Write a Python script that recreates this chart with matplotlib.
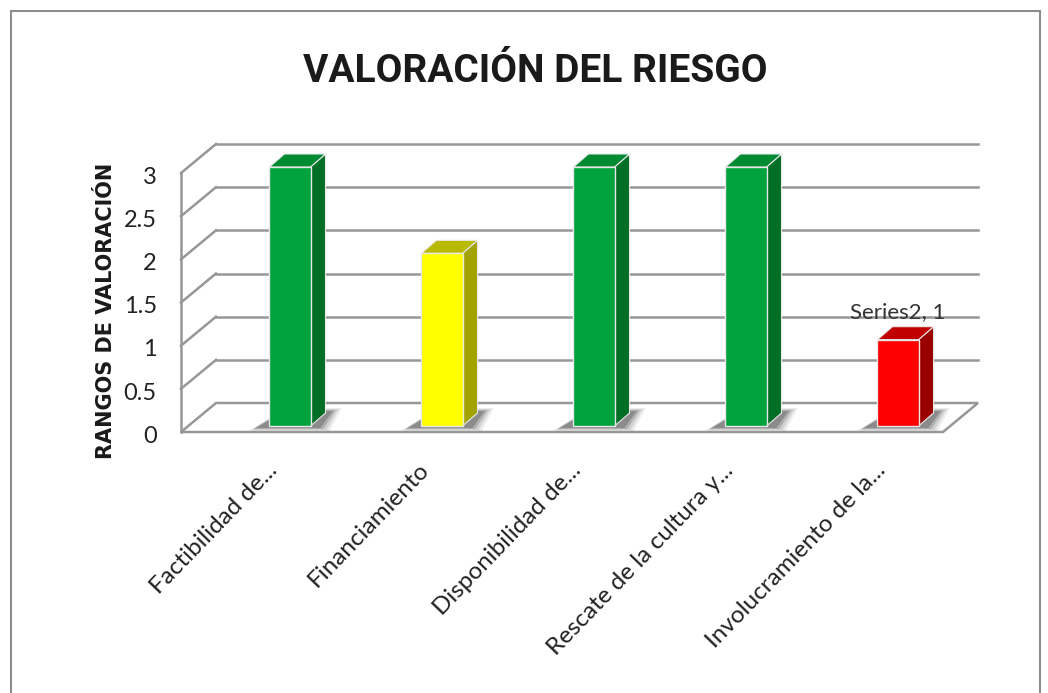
import matplotlib
matplotlib.use("Agg")
import matplotlib.pyplot as plt
from matplotlib.patches import Polygon, Rectangle

# ---- data ----
categories = ["Factibilidad de...", "Financiamiento", "Disponibilidad de...",
              "Rescate de la cultura y...", "Involucramiento de la..."]
values = [3, 2, 3, 3, 1]
bar_colors = ["green", "yellow", "green", "green", "red"]
y_ticks = [0, 0.5, 1, 1.5, 2, 2.5, 3]
y_tick_labels = ["0", "0.5", "1", "1.5", "2", "2.5", "3"]
title = "VALORACIÓN DEL RIESGO"
y_label = "RANGOS DE VALORACIÓN"
data_label = "Series2, 1"

palette = {
    "green": ("#00A33D", "#006E25", "#008A32"),
    "yellow": ("#FFFF00", "#A3A300", "#B9B900"),
    "red": ("#FF0000", "#9A0000", "#C00000"),
}
body_font = ["Lato", "DejaVu Sans"]

W, H = 1048, 693
fig = plt.figure(figsize=(W / 100, H / 100), dpi=100)
fig.patch.set_facecolor("white")

# outer frame
fig.add_artist(Rectangle((11 / W, -0.01), (1040 - 11) / W, (H - 11) / H + 0.01,
                         transform=fig.transFigure, fill=False,
                         edgecolor="#8C8C8C", lw=1.5))

# front plane axes
px_left, px_right = 181, 943
px_y0, px_y3 = 432, 173
xmin, xmax = -0.671, 4.342
ax = fig.add_axes([px_left / W, (H - px_y0) / H, (px_right - px_left) / W, (px_y0 - px_y3) / H])
ax.set_xlim(xmin, xmax)
ax.set_ylim(0, 3)
ax.axis("off")

ppx = (px_right - px_left) / (xmax - xmin)   # pixels per x unit
ppy = (px_y0 - px_y3) / 3.0                  # pixels per y unit

def off(dxp, dyp):
    return dxp / ppx, dyp / ppy

BX, BY = off(35, 29)     # depth of wall (front -> back)
OX, OY = off(7, 6)       # bar placement depth
DX, DY = off(15, 13)     # bar depth
grid_c = "#979797"

# floor
floor = Polygon([(xmin, 0), (xmax, 0), (xmax + BX, BY), (xmin + BX, BY)],
                closed=True, facecolor="white", edgecolor=grid_c, lw=1.8,
                clip_on=False, zorder=2)
ax.add_patch(floor)

# back wall grid lines + side wall diagonals
for v in y_ticks:
    if v > 0:
        ax.plot([xmin + BX, xmax + BX], [v + BY, v + BY], color=grid_c, lw=1.8,
                clip_on=False, zorder=1)
        ax.plot([xmin, xmin + BX], [v, v + BY], color=grid_c, lw=1.8,
                clip_on=False, zorder=1)
ax.plot([xmin, xmin], [0, 3], color=grid_c, lw=1.8, clip_on=False, zorder=1)

# tick labels
for v, lab in zip(y_ticks, y_tick_labels):
    ax.text(xmin - 0.16, v - 0.05, lab, ha="right", va="center",
            fontsize=17, family=body_font, color="#222222")

# bars
w = 0.27
for i, (v, c) in enumerate(zip(values, bar_colors)):
    front, side, top = palette[c]
    x0 = i - w / 2 + OX
    x1 = i + w / 2 + OX
    y0 = OY
    y1 = v + OY
    # soft shadow on floor (left wedge + slanted tail to the right/back)
    for k, a in [(3, 0.10), (2, 0.14), (1, 0.22), (0, 0.30)]:
        lx, _ = off(14 + 2 * k, 0)
        rx, _ = off(10 + 3 * k, 0)
        bx, by = off(22 + 3 * k, 15 + k)
        sx, sy = off(0, 2 + k)
        sh = Polygon([(x0 - lx, y0 - sy), (x1 + rx, y0 - sy),
                      (x1 + bx, y0 + by), (x0 + DX, y0 + by)],
                     closed=True, facecolor="#3A3A3A", edgecolor="none",
                     alpha=a, clip_on=False, zorder=3)
        ax.add_patch(sh)
    ax.add_patch(Polygon([(x1, y0), (x1 + DX, y0 + DY), (x1 + DX, y1 + DY), (x1, y1)],
                         closed=True, facecolor=side, edgecolor="#E8E8E8", lw=0.8,
                         clip_on=False, zorder=4))
    ax.add_patch(Polygon([(x0, y1), (x1, y1), (x1 + DX, y1 + DY), (x0 + DX, y1 + DY)],
                         closed=True, facecolor=top, edgecolor="#E8E8E8", lw=0.8,
                         clip_on=False, zorder=4))
    ax.add_patch(Rectangle((x0, y0), x1 - x0, y1 - y0, facecolor=front,
                           edgecolor="#E8E8E8", lw=1.0, clip_on=False, zorder=5))
    # category label
    ax.text(i - 0.06, -0.40, categories[i], rotation=46, rotation_mode="anchor",
            ha="right", va="center", fontsize=17.5, family=body_font, color="#222222")

# data label on last bar
ax.text(len(values) - 1 + OX + 0.0, values[-1] + OY + 0.32, data_label,
        ha="center", va="center", fontsize=16, family=body_font, color="#333333")

# title (fit to reference width) and y label
t = fig.text(535 / W, (H - 72) / H, title, ha="center", va="center",
             fontsize=36, fontweight="bold", family=["Roboto", "DejaVu Sans"],
             color="#1A1A1A")
fig.canvas.draw()
bw = t.get_window_extent().width
t.set_fontsize(36 * 464 / bw)

fig.text(106 / W, (H - 311) / H, y_label, ha="center", va="center", rotation=90,
         fontsize=15, fontweight="bold", family="DejaVu Sans", color="#1A1A1A")

fig.savefig("out.png", dpi=100, facecolor="white")
